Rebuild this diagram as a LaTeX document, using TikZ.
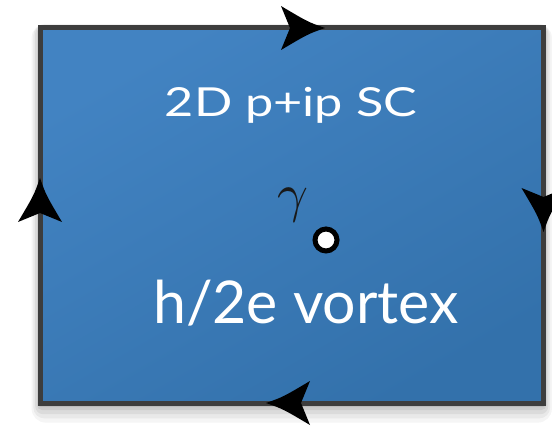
\documentclass[tikz,border=0pt]{standalone}
\usepackage{fontspec}
\newfontfamily\labelfont{Lato}
\usetikzlibrary{shadings}
\definecolor{scblue}{HTML}{3371AB}
\definecolor{scbluelight}{HTML}{4283C2}
\definecolor{scborder}{HTML}{3D3D3D}
\tikzset{
  arrowhd/.pic={\fill[black] (22,0) .. controls (5,-6) .. (-22,-22) -- (-13,0) -- (-22,22) .. controls (5,6) .. (22,0) -- cycle;},
  whitetext/.style={text=white, inner sep=0pt, anchor=base},
}
\begin{document}
\begin{tikzpicture}[x=1pt,y=1pt]
\useasboundingbox (0,0) rectangle (552,429);
\begin{scope}[yshift=429pt, yscale=-1]
  % soft shadow
  \foreach \d/\o in {14/0.04,11/0.05,8/0.06,5/0.07,3/0.08}{
    \fill[black, opacity=\o, rounded corners=\d] (40-\d*0.6,28-\d*0.3) rectangle (543.5+\d*0.6,403+\d*1.4);
  }
  \node[draw=scborder, line width=5pt, top color=scbluelight, bottom color=scblue, shading angle=30,
        minimum width=503.5pt, minimum height=375pt, inner sep=0pt] (sc) at (291.75,215.5) {};
  \coordinate (ntop) at (303,28);
  \coordinate (nleft) at (40,200);
  \coordinate (nright) at (543.5,210);
  \coordinate (nbottom) at (288,403);
  \pic at (ntop) {arrowhd};
  \pic[rotate=90] at (nleft) {arrowhd};
  \pic[rotate=-90] at (nright) {arrowhd};
  \pic[rotate=180] at (nbottom) {arrowhd};
  \node[whitetext, font=\labelfont\fontsize{40}{42}\selectfont] (t1) at (291,116.5) {\scalebox{1.26}[1]{2D p+ip SC}};
  \node[whitetext, font=\labelfont\fontsize{59}{61}\selectfont] (t2) at (306,323.3) {h/2e vortex};
  \node[text=black!90, inner sep=0pt] (g) at (293,205) {\scalebox{5.4}{$\gamma$}};
  \node[circle, draw=black, line width=5pt, fill=white, minimum size=22pt, inner sep=0pt] (v) at (326,240) {};
\end{scope}
\end{tikzpicture}
\end{document}
